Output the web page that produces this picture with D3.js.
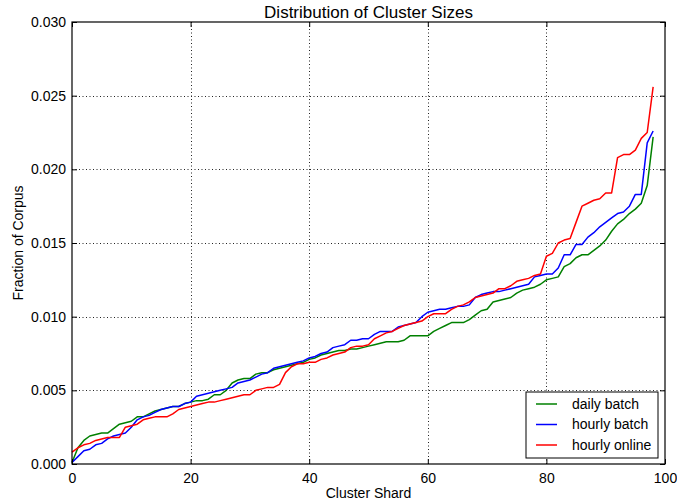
<!DOCTYPE html>
<html>
<head>
<meta charset="utf-8">
<script src="https://cdn.jsdelivr.net/npm/d3@7"></script>
<style>
  body { margin: 0; background: #fff; }
  text { font-family: "Liberation Sans", Arial, sans-serif; }
  .grid line { stroke: #222; stroke-dasharray: 1,2.5; stroke-width: 1; }
</style>
</head>
<body>
<div id="chart"></div>
<script>
const config = {
    width: 677,
    height: 503,
    marginTop: 22,
    marginRight: 12,
    marginBottom: 39,
    marginLeft: 72
};

const xTicks = [0, 20, 40, 60, 80, 100];
const yTicks = [0, 0.005, 0.010, 0.015, 0.020, 0.025, 0.030];
const seriesNames = ['daily batch', 'hourly batch', 'hourly online'];
const seriesColors = ['#008000', '#0000ff', '#ff0000'];

const dailyBatch = [
    0.0001, 0.0011, 0.0016, 0.0019, 0.0020, 0.0021, 0.0021, 0.0024, 0.0027, 0.0028,
    0.0029, 0.0032, 0.0032, 0.0034, 0.0036, 0.0037, 0.0038, 0.0039, 0.0039, 0.0041,
    0.0042, 0.0043, 0.0043, 0.0044, 0.0047, 0.0047, 0.0050, 0.0055, 0.0057, 0.0058,
    0.0058, 0.0061, 0.0062, 0.0062, 0.0064, 0.0065, 0.0066, 0.0067, 0.0068, 0.0069,
    0.0071, 0.0072, 0.0074, 0.0075, 0.0076, 0.0077, 0.0077, 0.0078, 0.0078, 0.0079,
    0.0080, 0.0081, 0.0082, 0.0083, 0.0083, 0.0083, 0.0084, 0.0087, 0.0087, 0.0087,
    0.0087, 0.0090, 0.0092, 0.0094, 0.0096, 0.0096, 0.0096, 0.0098, 0.0101, 0.0104,
    0.0105, 0.0110, 0.0111, 0.0112, 0.0113, 0.0116, 0.0118, 0.0119, 0.0120, 0.0122,
    0.0125, 0.0126, 0.0127, 0.0134, 0.0136, 0.0140, 0.0142, 0.0142, 0.0145, 0.0148,
    0.0152, 0.0158, 0.0163, 0.0166, 0.0170, 0.0173, 0.0177, 0.0189, 0.0222
];

const hourlyBatch = [
    0.0001, 0.0005, 0.0009, 0.0010, 0.0013, 0.0014, 0.0017, 0.0019, 0.0020, 0.0021,
    0.0025, 0.0030, 0.0032, 0.0033, 0.0035, 0.0037, 0.0038, 0.0039, 0.0039, 0.0041,
    0.0042, 0.0046, 0.0047, 0.0048, 0.0049, 0.0050, 0.0051, 0.0052, 0.0055, 0.0056,
    0.0057, 0.0059, 0.0061, 0.0062, 0.0065, 0.0066, 0.0067, 0.0068, 0.0069, 0.0070,
    0.0072, 0.0073, 0.0075, 0.0076, 0.0079, 0.0080, 0.0081, 0.0084, 0.0084, 0.0085,
    0.0085, 0.0088, 0.0090, 0.0090, 0.0090, 0.0093, 0.0094, 0.0095, 0.0096, 0.0100,
    0.0103, 0.0104, 0.0105, 0.0105, 0.0106, 0.0107, 0.0107, 0.0108, 0.0113, 0.0115,
    0.0116, 0.0117, 0.0117, 0.0118, 0.0119, 0.0120, 0.0121, 0.0122, 0.0127, 0.0128,
    0.0129, 0.0129, 0.0133, 0.0142, 0.0142, 0.0149, 0.0149, 0.0154, 0.0157, 0.0161,
    0.0164, 0.0167, 0.0170, 0.0171, 0.0175, 0.0183, 0.0183, 0.0218, 0.0226
];

const hourlyOnline = [
    0.0008, 0.0011, 0.0013, 0.0014, 0.0016, 0.0017, 0.0018, 0.0018, 0.0018, 0.0025,
    0.0026, 0.0027, 0.0030, 0.0031, 0.0032, 0.0032, 0.0032, 0.0034, 0.0037, 0.0038,
    0.0039, 0.0040, 0.0041, 0.0042, 0.0042, 0.0043, 0.0044, 0.0045, 0.0046, 0.0047,
    0.0047, 0.0050, 0.0051, 0.0052, 0.0052, 0.0054, 0.0062, 0.0066, 0.0068, 0.0068,
    0.0069, 0.0069, 0.0071, 0.0072, 0.0074, 0.0075, 0.0076, 0.0079, 0.0080, 0.0080,
    0.0081, 0.0085, 0.0087, 0.0089, 0.0090, 0.0092, 0.0094, 0.0095, 0.0096, 0.0097,
    0.0100, 0.0102, 0.0102, 0.0102, 0.0105, 0.0107, 0.0108, 0.0110, 0.0113, 0.0114,
    0.0115, 0.0116, 0.0119, 0.0119, 0.0121, 0.0124, 0.0125, 0.0126, 0.0128, 0.0129,
    0.0141, 0.0143, 0.0150, 0.0152, 0.0153, 0.0164, 0.0175, 0.0177, 0.0179, 0.0180,
    0.0184, 0.0184, 0.0208, 0.0210, 0.0210, 0.0213, 0.0221, 0.0225, 0.0256
];

const allSeries = [dailyBatch, hourlyBatch, hourlyOnline];

const svg = d3.select('#chart')
    .append('svg')
    .attr('width', config.width)
    .attr('height', config.height);

const xScale = d3.scaleLinear()
    .domain([0, 100])
    .range([config.marginLeft, config.width - config.marginRight]);

const yScale = d3.scaleLinear()
    .domain([0, 0.030])
    .range([config.height - config.marginBottom, config.marginTop]);

const plotLeft = xScale(0), plotRight = xScale(100);
const plotTop = yScale(0.030), plotBottom = yScale(0);
const fontFamily = '"Liberation Sans", Arial, sans-serif';

// dotted grid
svg.append('g')
    .attr('class', 'grid')
    .selectAll('line')
    .data(xTicks.slice(1, -1))
    .join('line')
    .attr('x1', d => Math.round(xScale(d)) + 0.5)
    .attr('x2', d => Math.round(xScale(d)) + 0.5)
    .attr('y1', plotTop)
    .attr('y2', plotBottom);

svg.append('g')
    .attr('class', 'grid')
    .selectAll('line')
    .data(yTicks.slice(1, -1))
    .join('line')
    .attr('x1', plotLeft)
    .attr('x2', plotRight)
    .attr('y1', d => Math.round(yScale(d)) + 0.5)
    .attr('y2', d => Math.round(yScale(d)) + 0.5);

// series
const line = d3.line()
    .x((d, i) => xScale(i))
    .y(d => yScale(d));

allSeries.forEach((values, k) => {
    svg.append('path')
        .datum(values)
        .attr('fill', 'none')
        .attr('stroke', seriesColors[k])
        .attr('stroke-width', 1.5)
        .attr('stroke-linejoin', 'round')
        .attr('d', line);
});

// axes, ticks inside on all sides
svg.append('g')
    .attr('transform', `translate(0,${plotBottom})`)
    .call(d3.axisBottom(xScale).tickValues(xTicks).tickSizeInner(-5).tickSizeOuter(0).tickPadding(9).tickFormat(d3.format('d')))
    .call(g => g.select('.domain').remove())
    .call(g => g.selectAll('text').attr('font-size', 14).attr('fill', '#000').attr('font-family', fontFamily));

svg.append('g')
    .attr('transform', `translate(0,${plotTop})`)
    .call(d3.axisTop(xScale).tickValues(xTicks).tickSizeInner(-5).tickSizeOuter(0).tickFormat(''))
    .call(g => g.select('.domain').remove());

svg.append('g')
    .attr('transform', `translate(${plotLeft},0)`)
    .call(d3.axisLeft(yScale).tickValues(yTicks).tickSizeInner(-5).tickSizeOuter(0).tickPadding(6).tickFormat(d3.format('.3f')))
    .call(g => g.select('.domain').remove())
    .call(g => g.selectAll('text').attr('font-size', 14).attr('fill', '#000').attr('font-family', fontFamily));

svg.append('g')
    .attr('transform', `translate(${plotRight},0)`)
    .call(d3.axisRight(yScale).tickValues(yTicks).tickSizeInner(-5).tickSizeOuter(0).tickFormat(''))
    .call(g => g.select('.domain').remove());

// frame
svg.append('rect')
    .attr('x', plotLeft)
    .attr('y', plotTop)
    .attr('width', plotRight - plotLeft)
    .attr('height', plotBottom - plotTop)
    .attr('fill', 'none')
    .attr('stroke', '#000')
    .attr('stroke-width', 1.2);

// titles
svg.append('text')
    .attr('x', (plotLeft + plotRight) / 2)
    .attr('y', 18)
    .attr('text-anchor', 'middle')
    .attr('font-size', 17)
    .text('Distribution of Cluster Sizes');

svg.append('text')
    .attr('x', (plotLeft + plotRight) / 2)
    .attr('y', 498)
    .attr('text-anchor', 'middle')
    .attr('font-size', 14)
    .text('Cluster Shard');

svg.append('text')
    .attr('transform', `translate(23,${(plotTop + plotBottom) / 2}) rotate(-90)`)
    .attr('text-anchor', 'middle')
    .attr('font-size', 14)
    .text('Fraction of Corpus');

// legend
const legend = svg.append('g')
    .attr('transform', 'translate(526,392)');

legend.append('rect')
    .attr('width', 132)
    .attr('height', 66)
    .attr('fill', '#fff')
    .attr('stroke', '#000')
    .attr('stroke-width', 1);

seriesNames.forEach((name, k) => {
    const yy = 12 + k * 20.5;
    legend.append('line')
        .attr('x1', 10)
        .attr('x2', 31)
        .attr('y1', yy)
        .attr('y2', yy)
        .attr('stroke', seriesColors[k])
        .attr('stroke-width', 1.5);
    legend.append('text')
        .attr('x', 46)
        .attr('y', yy)
        .attr('dy', '0.35em')
        .attr('font-size', 14)
        .text(name);
});
</script>
</body>
</html>
